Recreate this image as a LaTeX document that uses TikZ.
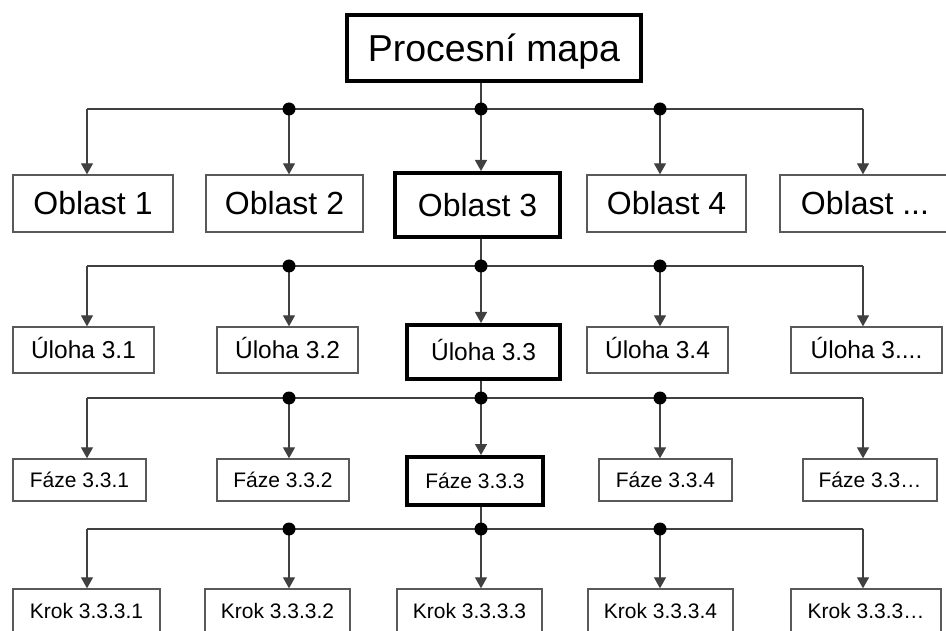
\documentclass[tikz,border=0pt]{standalone}
\usepackage{fontspec}
\setmainfont{Liberation Sans}
\usetikzlibrary{arrows.meta}
\begin{document}
\begin{tikzpicture}[x=1pt,y=-1pt,
  box/.style={draw=black!65, line width=1.4pt, inner sep=0pt, text depth=0pt},
  mainbox/.style={box, draw=black, line width=4pt},
  conn/.style={draw=black!75, line width=1.3pt},
  arr/.style={conn, -{Triangle[length=11pt,width=12pt]}},
  jdot/.style={circle, fill=black, inner sep=0pt, minimum size=13pt},
  f0/.style={font=\fontsize{37.5}{40}\selectfont, text height=26.9pt},
  f1/.style={font=\fontsize{32}{36}\selectfont, text height=22.9pt},
  f2/.style={font=\fontsize{24.5}{28}\selectfont, text height=17.5pt},
  f3/.style={font=\fontsize{21}{24}\selectfont, text height=15pt},
]
\useasboundingbox[fill=white] (0,0) rectangle (946,631);

% top
\node[mainbox,f0,minimum width=294pt,minimum height=66pt] (top) at (494,48) {Procesní mapa};

% level 1
\node[box,f1,minimum width=160pt,minimum height=57pt] (o1) at (93,203.5) {Oblast 1};
\node[box,f1,minimum width=157pt,minimum height=57pt] (o2) at (284.5,203.5) {Oblast 2};
\node[mainbox,f1,minimum width=165pt,minimum height=64pt] (o3) at (477.5,205) {Oblast 3};
\node[box,f1,minimum width=159pt,minimum height=57pt] (o4) at (666.5,203.5) {Oblast 4};
\node[box,f1,minimum width=170pt,minimum height=57pt] (o5) at (865,203.5) {Oblast ...};

% level 2
\node[box,f2,minimum width=141pt,minimum height=46pt] (u1) at (83.5,350) {Úloha 3.1};
\node[box,f2,minimum width=141pt,minimum height=46pt] (u2) at (287.5,350) {Úloha 3.2};
\node[mainbox,f2,minimum width=153pt,minimum height=54pt] (u3) at (483.5,352) {Úloha 3.3};
\node[box,f2,minimum width=141pt,minimum height=46pt] (u4) at (657.5,350) {Úloha 3.4};
\node[box,f2,minimum width=151pt,minimum height=46pt] (u5) at (866.5,350) {Úloha 3....};

% level 3
\node[box,f3,minimum width=133pt,minimum height=42pt] (p1) at (79.5,480) {Fáze 3.3.1};
\node[box,f3,minimum width=132pt,minimum height=42pt] (p2) at (283,480) {Fáze 3.3.2};
\node[mainbox,f3,minimum width=136pt,minimum height=48pt] (p3) at (475,481) {Fáze 3.3.3};
\node[box,f3,minimum width=133pt,minimum height=42pt] (p4) at (665.5,480) {Fáze 3.3.4};
\node[box,f3,minimum width=134pt,minimum height=42pt] (p5) at (870,480) {Fáze 3.3…};

% level 4
\node[box,f3,minimum width=147pt,minimum height=43pt] (k1) at (86.5,610.5) {Krok 3.3.3.1};
\node[box,f3,minimum width=145pt,minimum height=43pt] (k2) at (277.5,610.5) {Krok 3.3.3.2};
\node[box,f3,minimum width=145pt,minimum height=43pt] (k3) at (469.5,610.5) {Krok 3.3.3.3};
\node[box,f3,minimum width=145pt,minimum height=43pt] (k4) at (660.5,610.5) {Krok 3.3.3.4};
\node[box,f3,minimum width=150pt,minimum height=43pt] (k5) at (866,610.5) {Krok 3.3.3…};

% junction coordinates
\foreach \lev/\yy in {a/109, b/266, c/398, d/529}{
  \coordinate (\lev1) at (87,\yy);
  \coordinate (\lev2) at (289,\yy);
  \coordinate (\lev3) at (481,\yy);
  \coordinate (\lev4) at (660,\yy);
  \coordinate (\lev5) at (863,\yy);
}

% connectors
\foreach \lev/\pn/\ch in {a/top/o, b/o3/u, c/u3/p, d/p3/k}{
  \draw[conn] (\pn.south -| \lev3) -- (\lev3);
  \draw[conn] (\lev1) -- (\lev5);
  \foreach \i in {1,...,5}{
    \draw[arr] (\lev\i) -- (\lev\i |- \ch\i.north);
  }
  \foreach \i in {2,3,4}{
    \node[jdot] at (\lev\i) {};
  }
}
\end{tikzpicture}
\end{document}
